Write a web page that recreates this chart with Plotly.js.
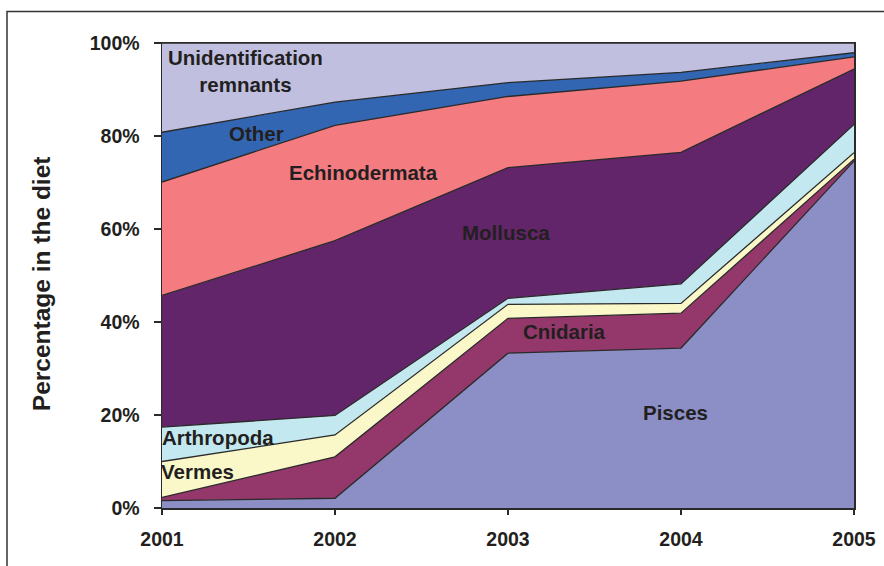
<!DOCTYPE html>
<html>
<head>
<meta charset="utf-8">
<script src="https://cdn.plot.ly/plotly-3.0.1.min.js"></script>
<style>html,body{margin:0;padding:0;background:#fff;}#chart{width:884px;height:566px;}</style>
</head>
<body>
<div id="chart"></div>
<script>
var years = [2001, 2002, 2003, 2004, 2005];
var pisces        = [1.6, 2.1, 33.3, 34.4, 74.6];
var cnidaria      = [0.7, 8.9, 7.5, 7.5, 0.4];
var vermes        = [7.7, 4.7, 3.0, 2.1, 1.4];
var arthropoda    = [7.4, 4.2, 1.3, 4.2, 6.1];
var mollusca      = [28.3, 37.6, 28.1, 28.3, 11.9];
var echinodermata = [24.4, 24.8, 15.3, 15.3, 2.6];
var other         = [10.7, 5.0, 3.0, 1.9, 0.9];
var unidentified  = [19.2, 12.7, 8.5, 6.3, 2.1];
var yTickVals = [0, 20, 40, 60, 80, 100];
var yTickText = ['0%', '20%', '40%', '60%', '80%', '100%'];
var xTickText = ['2001', '2002', '2003', '2004', '2005'];

var seriesNames = ['Pisces', 'Cnidaria', 'Vermes', 'Arthropoda', 'Mollusca', 'Echinodermata', 'Other', 'Unidentification remnants'];
var seriesValues = [pisces, cnidaria, vermes, arthropoda, mollusca, echinodermata, other, unidentified];
var seriesColors = ['#8b8fc5', '#94386b', '#faf8c8', '#c4e8ef', '#622569', '#f47b80', '#3366b2', '#c0bfe0'];

var traces = seriesNames.map(function (n, i) {
  return {
    type: 'scatter', mode: 'lines', name: n,
    x: years, y: seriesValues[i],
    stackgroup: 'diet',
    fillcolor: seriesColors[i],
    line: {color: '#2a2a2a', width: 1.3},
    hoverinfo: 'skip'
  };
});

var labelFont = {family: 'Liberation Sans, Arial, sans-serif', size: 20.5, color: '#231f20', weight: 'bold'};
function lab(text, x, y) {
  return {text: text, x: x, y: y, xref: 'x', yref: 'y', showarrow: false, font: labelFont, align: 'center',
          xanchor: 'center', yanchor: 'middle'};
}

var annotations = [
  lab('Unidentification<br>remnants', 2001.48, 94.0),
  lab('Other', 2001.546, 80.6),
  lab('Echinodermata', 2002.162, 72.1),
  lab('Mollusca', 2002.991, 59.2),
  lab('Cnidaria', 2003.327, 37.9),
  lab('Pisces', 2003.971, 20.6),
  lab('Arthropoda', 2001.321, 15.2),
  lab('Vermes', 2001.205, 7.9),
  {text: 'Percentage in the diet', x: -0.173, y: 0.482, xref: 'paper', yref: 'paper',
   xanchor: 'center', yanchor: 'middle',
   showarrow: false, textangle: -90,
   font: {family: 'Liberation Sans, Arial, sans-serif', size: 24.5, color: '#231f20', weight: 'bold'}}
];

var tickFont = {family: 'Liberation Sans, Arial, sans-serif', size: 19.5, color: '#231f20', weight: 'bold'};

var layout = {
  width: 884, height: 566,
  margin: {l: 162, r: 30, t: 43, b: 58},
  paper_bgcolor: '#ffffff', plot_bgcolor: '#ffffff',
  showlegend: false,
  xaxis: {
    range: [2001, 2005], tickvals: years, ticktext: xTickText,
    showgrid: false, zeroline: false,
    showline: true, linecolor: '#2a2a2a', linewidth: 1.5, mirror: true,
    ticks: 'outside', ticklen: 5, tickcolor: '#2a2a2a', tickwidth: 1.3,
    ticklabelstandoff: 8,
    tickfont: tickFont
  },
  yaxis: {
    range: [0, 100], tickvals: yTickVals, ticktext: yTickText,
    showgrid: false, zeroline: false,
    showline: true, linecolor: '#2a2a2a', linewidth: 1.5, mirror: true,
    ticks: 'outside', ticklen: 7, tickcolor: '#2a2a2a', tickwidth: 1.3,
    ticklabelstandoff: 10,
    tickfont: tickFont
  },
  annotations: annotations,
  shapes: [{
    type: 'rect', xref: 'paper', yref: 'paper',
    x0: -0.224, x1: 1.2, y0: -0.3, y1: 1.068,
    line: {color: '#333333', width: 1.5}, fillcolor: 'rgba(0,0,0,0)', layer: 'below'
  }]
};

Plotly.newPlot('chart', traces, layout, {staticPlot: true, displayModeBar: false});
</script>
</body>
</html>
